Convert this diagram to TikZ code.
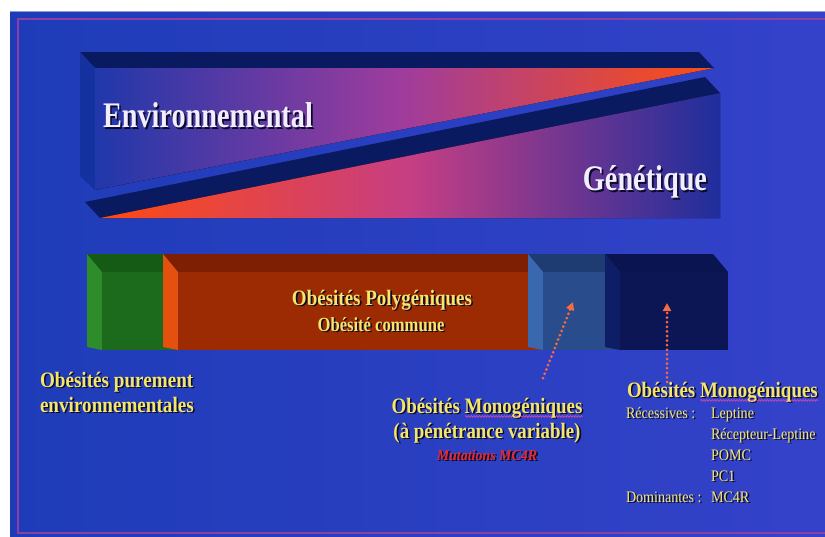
\documentclass[tikz,border=0pt]{standalone}
\usepackage{fontspec}
\setmainfont{Liberation Serif}
\usetikzlibrary{arrows.meta,decorations.pathmorphing}

% palette
\definecolor{fondg}{HTML}{1E3CB8}
\definecolor{fondd}{HTML}{3442C9}
\definecolor{cadre}{HTML}{8C3FA6}
\definecolor{bordhaut}{HTML}{8A9BE0}
\definecolor{navyface}{HTML}{0A1A60}
\definecolor{sideface}{HTML}{1431A0}
\definecolor{envA}{HTML}{2038AA}
\definecolor{envB}{HTML}{A03C9C}
\definecolor{envC}{HTML}{FF4E10}
\definecolor{genA}{HTML}{FF4A10}
\definecolor{genB}{HTML}{C63E84}
\definecolor{genC}{HTML}{1E2E9C}
\definecolor{blanc}{HTML}{F3EEFF}
\definecolor{jaune}{HTML}{F5E66A}
\definecolor{rougetxt}{HTML}{E62A2A}
\definecolor{ombrecol}{HTML}{0A0A2A}
\definecolor{orangef}{HTML}{F86A40}
\definecolor{wavecol}{HTML}{D04AB0}
\definecolor{vertT}{HTML}{155A15}
\definecolor{vertL}{HTML}{2E8C2A}
\definecolor{vertF}{HTML}{1C6A1C}
\definecolor{rougeT}{HTML}{7E1E02}
\definecolor{rougeL}{HTML}{E4500E}
\definecolor{rougeF}{HTML}{9C2A02}
\definecolor{bleuT}{HTML}{1E3C72}
\definecolor{bleuL}{HTML}{3A68AE}
\definecolor{bleuF}{HTML}{284C8C}
\definecolor{marineT}{HTML}{0A1450}
\definecolor{marineL}{HTML}{0E1E66}
\definecolor{marineF}{HTML}{0C1654}

% wavy spelling underline under a word
\newsavebox{\motbox}
\newcommand{\vague}[1]{\leavevmode\sbox{\motbox}{#1}%
  \rlap{\tikz[x=1pt,y=1pt,baseline=0pt]\draw[wavecol,line width=0.7pt,
    decorate,decoration={snake,amplitude=0.9pt,segment length=3.2pt}]
    (0,-3.4) -- (\the\wd\motbox,-3.4);}#1}
% text with a dark drop shadow
\newcommand{\ombredec}{1.8pt}
\newcommand{\ombre}[2]{\makebox[0pt][l]{\let\vague\relax\hspace{\ombredec}\raisebox{-\ombredec}{\color{ombrecol}#2}}{\color{#1}#2}}

\tikzset{
  txt/.style={inner sep=0pt, outer sep=0pt},
  titre/.style={txt, font=\fontsize{22}{25}\selectfont\bfseries},
  liste/.style={txt, anchor=base west, font=\fontsize{16}{21}\selectfont},
  fleche/.style={draw=orangef, line width=3pt, dash pattern=on 0pt off 4.6pt,
    line cap=round, -{Triangle[length=8pt,width=8pt,fill=orangef]}},
  cadreline/.style={draw=cadre, line width=1.6pt},
}

\begin{document}
\begin{tikzpicture}[x=1pt,y=-1pt]
\useasboundingbox (0,0) rectangle (825,536);
\fill[white] (0,0) rectangle (825,536);

% slide background and frame
\fill[left color=fondg, right color=fondd] (10,11) rectangle (825,536);
\draw[bordhaut, line width=1.2pt] (10,11.6) -- (825,11.6);
\draw[cadreline] (825,19) -- (18,19) -- (18,533) -- (825,533);

% upper wedge (environment)
\fill[navyface] (80,52) -- (699,52) -- (714,68) -- (95,68) -- cycle;
\fill[sideface] (80,52) -- (95,68) -- (95,190) -- (80,176) -- cycle;
\fill[left color=envA, right color=envC, middle color=envB]
  (95,68) -- (714,68) -- (95,190) -- cycle;

% lower wedge (genetics)
\fill[navyface] (85,202) -- (705,77) -- (720,93) -- (100,218) -- cycle;
\fill[left color=genA, right color=genC, middle color=genB]
  (100,218) -- (720,93) -- (720,218) -- cycle;

% row of blocks
\fill[vertT] (87,254) -- (163,254) -- (178,272) -- (102,272) -- cycle;
\fill[vertL] (87,254) -- (102,272) -- (102,350) -- (87,347) -- cycle;
\fill[vertF] (102,272) rectangle (178,350);

\fill[rougeT] (163,254) -- (528,254) -- (543,272) -- (178,272) -- cycle;
\fill[rougeL] (163,254) -- (178,272) -- (178,350) -- (163,347) -- cycle;
\fill[rougeF] (178,272) rectangle (543,350);

\fill[bleuT] (528,254) -- (605,254) -- (620,272) -- (543,272) -- cycle;
\fill[bleuL] (528,254) -- (543,272) -- (543,350) -- (528,347) -- cycle;
\fill[bleuF] (543,272) rectangle (620,350);

\fill[marineT] (605,254) -- (713,254) -- (728,272) -- (620,272) -- cycle;
\fill[marineL] (605,254) -- (620,272) -- (620,350) -- (605,347) -- cycle;
\fill[marineF] (620,272) rectangle (728,350);

% wedge labels
\node[txt, anchor=base west] (env) at (103,127)
  {\fontsize{36}{40}\selectfont\bfseries\renewcommand{\ombredec}{2.2pt}\scalebox{0.785}[1]{\ombre{blanc}{Environnemental}}};
\node[txt, anchor=base east] (gen) at (707,190)
  {\fontsize{36}{40}\selectfont\bfseries\renewcommand{\ombredec}{2.2pt}\scalebox{0.785}[1]{\ombre{blanc}{Génétique}}};

% block labels
\node[titre, anchor=base] (poly) at (382,305)
  {\scalebox{0.864}[1]{\ombre{jaune}{Obésités Polygéniques}}};
\node[txt, anchor=base] (comm) at (381,331)
  {\fontsize{20}{24}\selectfont\bfseries\scalebox{0.83}[1]{\ombre{jaune}{Obésité commune}}};

\node[titre, anchor=base west] (pur) at (40,387)
  {\scalebox{0.87}[1]{\ombre{jaune}{\begin{tabular}[t]{@{}l@{}}Obésités purement\\environnementales\end{tabular}}}};

\node[titre, anchor=base] (monovar) at (487,413)
  {\scalebox{0.86}[1]{\ombre{jaune}{\begin{tabular}[t]{@{}c@{}}Obésités \vague{Monogéniques}\\(à pénétrance variable)\end{tabular}}}};
\node[txt, anchor=base] (mut) at (487,460)
  {\fontsize{15}{18}\selectfont\bfseries\itshape\scalebox{0.93}[1]{\ombre{rougetxt}{Mutations MC4R}}};

\node[titre, anchor=base west] (mono) at (627,397)
  {\scalebox{0.86}[1]{\ombre{jaune}{Obésités \vague{Monogéniques}}}};
\node[liste] (rec) at (626,418) {\scalebox{0.88}[1]{\ombre{jaune}{Récessives :}}};
\node[liste] (lep) at (711,418) {\scalebox{0.88}[1]{\ombre{jaune}{Leptine}}};
\node[liste] (rlep) at (711,439) {\scalebox{0.88}[1]{\ombre{jaune}{Récepteur-Leptine}}};
\node[liste] (pomc) at (711,460) {\scalebox{0.88}[1]{\ombre{jaune}{POMC}}};
\node[liste] (pc1) at (711,481) {\scalebox{0.88}[1]{\ombre{jaune}{PC1}}};
\node[liste] (dom) at (626,502) {\scalebox{0.88}[1]{\ombre{jaune}{Dominantes :}}};
\node[liste] (mc4r) at (711,502) {\scalebox{0.88}[1]{\ombre{jaune}{MC4R}}};

% dotted pointers to the monogenic blocks
\coordinate (f1a) at (543,378);
\coordinate (f1b) at (573,302);
\coordinate (f2a) at (667,382);
\coordinate (f2b) at (667,303);
\draw[fleche] (f1a) -- (f1b);
\draw[fleche] (f2a) -- (f2b);
\end{tikzpicture}
\end{document}
